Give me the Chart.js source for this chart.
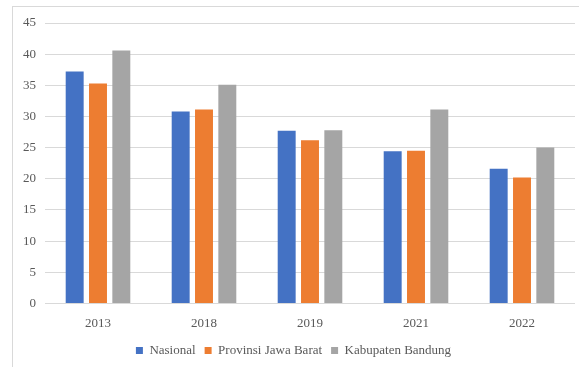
<!DOCTYPE html>
<html>
<head>
<meta charset="utf-8">
<script src="https://cdn.jsdelivr.net/npm/chart.js@4/dist/chart.umd.min.js"></script>
<style>
  html, body { margin: 0; padding: 0; background: #fff; }
  #wrap { position: relative; width: 579px; height: 367px; overflow: hidden; }
  #frame { position: absolute; left: 12px; top: 6px; width: 600px; height: 400px;
           border-top: 1px solid #d9d9d9; border-left: 1px solid #d9d9d9; box-sizing: border-box; }
  canvas { position: absolute; left: 0; top: 0; }
  .preload { font-family: 'Liberation Serif'; position: absolute; visibility: hidden; }
</style>
</head>
<body>
<div id="wrap">
  <div id="frame"></div>
  <span class="preload">0123456789 Nasional</span>
  <canvas id="c" width="579" height="367"></canvas>
</div>
<script>
// Prevalensi stunting (%) per tahun
const years = ['2013', '2018', '2019', '2021', '2022'];
const nasional = [37.2, 30.8, 27.7, 24.4, 21.6];
const provinsiJabar = [35.3, 31.1, 26.2, 24.5, 20.2];
const kabBandung = [40.6, 35.1, 27.8, 31.1, 25.0];
const yTicks = [0, 5, 10, 15, 20, 25, 30, 35, 40, 45];

const serif = "'Liberation Serif', 'Times New Roman', serif";
const textColor = '#595959';
const gridColor = '#d9d9d9';

function draw() {
  Chart.defaults.font.family = serif;
  Chart.defaults.font.size = 13;
  Chart.defaults.color = textColor;

  new Chart(document.getElementById('c'), {
    type: 'bar',
    data: {
      labels: years,
      datasets: [
        { label: 'Nasional', data: nasional, backgroundColor: '#4472C4' },
        { label: 'Provinsi Jawa Barat', data: provinsiJabar, backgroundColor: '#ED7D31' },
        { label: 'Kabupaten Bandung', data: kabBandung, backgroundColor: '#A5A5A5' }
      ]
    },
    options: {
      responsive: false,
      animation: false,
      devicePixelRatio: 1,
      layout: { padding: { left: 12, right: 4, top: 23, bottom: 0 } },
      datasets: { bar: { categoryPercentage: 0.66, barPercentage: 0.77 } },
      plugins: {
        tooltip: { enabled: false },
        legend: {
          position: 'bottom',
          labels: {
            boxWidth: 7, boxHeight: 7, padding: 9,
            color: textColor,
            font: { family: serif, size: 13 }
          }
        }
      },
      scales: {
        x: {
          grid: { display: false },
          border: { display: false },
          ticks: { color: textColor, font: { family: serif, size: 13 }, padding: 4 }
        },
        y: {
          min: 0, max: 45,
          afterBuildTicks: (axis) => { axis.ticks = yTicks.map(v => ({ value: v })); },
          afterFit: (axis) => { axis.width = 33; },
          grid: { color: gridColor, drawTicks: false },
          border: { display: false },
          ticks: { color: textColor, font: { family: serif, size: 13 }, padding: 9 }
        }
      }
    }
  });
}

document.fonts.load("13px 'Liberation Serif'").then(draw, draw);
</script>
</body>
</html>
